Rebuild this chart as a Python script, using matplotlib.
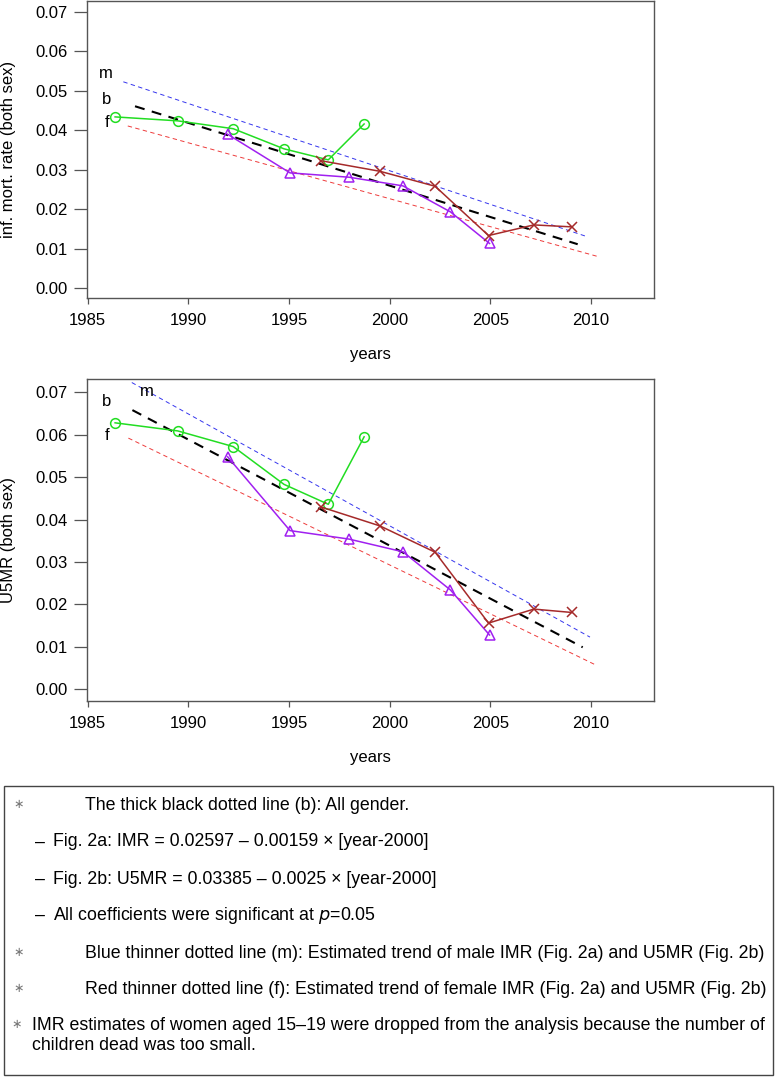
import numpy as np
import matplotlib.pyplot as plt
from matplotlib.patches import Rectangle

plt.rcParams['font.family'] = ['Liberation Sans', 'DejaVu Sans']
plt.rcParams['mathtext.fontset'] = 'custom'
plt.rcParams['mathtext.it'] = 'Liberation Sans Narrow:italic'
plt.rcParams['mathtext.rm'] = 'Liberation Sans Narrow'

# ---- dados ----
# painel a: IMR
anos_verde = [1986.36, 1989.47, 1992.23, 1994.75, 1996.95, 1998.73]
imr_verde = [0.0434, 0.0424, 0.0404, 0.0353, 0.0325, 0.0416]
anos_roxo = [1991.95, 1995.05, 1997.98, 2000.66, 2003.02, 2004.96]
imr_roxo = [0.0390, 0.0292, 0.0281, 0.0259, 0.0193, 0.0113]
anos_marrom = [1996.57, 1999.52, 2002.26, 2004.91, 2007.16, 2009.06]
imr_marrom = [0.0323, 0.0296, 0.0258, 0.0133, 0.0160, 0.0155]

# tendencias (pontos extremos)
imr_b_x, imr_b_y = [1987.35, 2009.34], [0.0461, 0.0111]
imr_m_x, imr_m_y = [1986.77, 2009.70], [0.0523, 0.0132]
imr_f_x, imr_f_y = [1986.99, 2010.40], [0.0411, 0.0079]

# painel b: U5MR
u5_verde = [0.0628, 0.0609, 0.0572, 0.0483, 0.0436, 0.0595]
u5_roxo = [0.0548, 0.0374, 0.0354, 0.0324, 0.0234, 0.0128]
u5_marrom = [0.0430, 0.0385, 0.0323, 0.0156, 0.0189, 0.0181]

u5_b_x, u5_b_y = [1987.22, 2009.59], [0.0658, 0.0099]
u5_m_x, u5_m_y = [1987.19, 2009.95], [0.0723, 0.0123]
u5_f_x, u5_f_y = [1987.02, 2010.25], [0.0592, 0.0057]

# posicoes dos rotulos m/b/f
rot_imr = {"m": (1985.90, 0.0543), "b": (1985.95, 0.0478), "f": (1985.97, 0.0419)}
rot_u5 = {"m": (1987.93, 0.0701), "b": (1985.94, 0.0678), "f": (1985.97, 0.0599)}

anos_ticks = [1985, 1990, 1995, 2000, 2005, 2010]
taxa_ticks = [0.00, 0.01, 0.02, 0.03, 0.04, 0.05, 0.06, 0.07]

VERDE = '#22dd22'
ROXO = '#a020f0'
MARROM = '#a52a2a'
CINZA = '#555555'

W, H = 776, 1077
fig = plt.figure(figsize=(W / 100, H / 100), dpi=100)

ax1 = fig.add_axes([86.7 / W, 1 - 298 / H, (654 - 86.7) / W, 297 / H])
ax2 = fig.add_axes([86.7 / W, 1 - 701 / H, (654 - 86.7) / W, (701 - 379.3) / H])


def painel(ax, verde, roxo, marrom, b, m, f, rotulos, ylabel, ylim):
    ax.plot(m[0], m[1], color='#3535ee', lw=0.7, dashes=(4.5, 3.5))
    ax.plot(f[0], f[1], color='#ee3b3b', lw=0.7, dashes=(4.5, 3.5))
    ax.plot(b[0], b[1], color='black', lw=1.5, dashes=(4.8, 3.6))
    ax.plot(anos_verde, verde, color=VERDE, lw=1.1, marker='o', ms=7,
            mfc='none', mec=VERDE, mew=1.1)
    ax.plot(anos_roxo, roxo, color=ROXO, lw=1.1, marker='^', ms=7,
            mfc='none', mec=ROXO, mew=1.1)
    ax.plot(anos_marrom, marrom, color=MARROM, lw=1.1, marker='x', ms=7,
            mec=MARROM, mew=1.1)
    for k, (x, y) in rotulos.items():
        ax.text(x, y, k, ha='center', va='center', fontsize=12)

    ax.set_xlim(1984.95, 2013.13)
    ax.set_ylim(*ylim)
    ax.set_xticks(anos_ticks)
    ax.set_yticks(taxa_ticks)
    ax.set_yticklabels(['%.2f' % t for t in taxa_ticks])
    for s in ax.spines.values():
        s.set_color(CINZA)
        s.set_linewidth(1.0)
    ax.tick_params(axis='x', length=4.5, width=0.9, color=CINZA, pad=6, labelsize=12)
    ax.tick_params(axis='y', length=9.5, width=0.9, color=CINZA, pad=4.5, labelsize=12)
    ax.set_xlabel('years', fontsize=12)
    ax.set_ylabel(ylabel, fontsize=12)


painel(ax1, imr_verde, imr_roxo, imr_marrom, (imr_b_x, imr_b_y), (imr_m_x, imr_m_y),
       (imr_f_x, imr_f_y), rot_imr, 'inf. mort. rate (both sex)', (-0.00254, 0.0728))
painel(ax2, u5_verde, u5_roxo, u5_marrom, (u5_b_x, u5_b_y), (u5_m_x, u5_m_y),
       (u5_f_x, u5_f_y), rot_u5, 'U5MR (both sex)', (-0.00276, 0.07306))

ax1.xaxis.set_label_coords(0.5, -(347 - 298) / 297)
ax2.xaxis.set_label_coords(0.5, -(750 - 701) / 321.7)
ax1.yaxis.set_label_coords((16 - 86.7) / 567.3, 0.5)
ax2.yaxis.set_label_coords((16 - 86.7) / 567.3, 0.5)

# caixa de notas
fig.patches.append(Rectangle((4 / W, 1 - 1075 / H), (773 - 4) / W, (1075 - 786) / H,
                             transform=fig.transFigure, fill=False,
                             edgecolor='#444444', lw=1.0))

nota_fs = 12.8
fam_nota = ['Liberation Sans Narrow', 'Liberation Sans', 'DejaVu Sans']


def nota(x, y, s):
    fig.text(x / W, 1 - y / H, s, ha='left', va='center', fontsize=nota_fs,
             family=fam_nota)


def asterisco(x, y):
    fig.text(x / W, 1 - y / H, '∗', ha='center', va='center', fontsize=9,
             color='#777777', family=['DejaVu Sans'])


def travessao(y):
    fig.text(40 / W, 1 - y / H, '–', ha='center', va='center', fontsize=nota_fs,
             family=['Liberation Sans'])


asterisco(19, 805)
nota(85, 805, 'The thick black dotted line (b): All gender.')
travessao(842)
nota(53, 842, 'Fig. 2a: IMR = 0.02597 – 0.00159 × [year-2000]')
travessao(879)
nota(53, 879, 'Fig. 2b: U5MR = 0.03385 – 0.0025 × [year-2000]')
travessao(915)
nota(53, 915, 'All coefficients were significant at $p$=0.05')
asterisco(19, 953)
nota(85, 953, 'Blue thinner dotted line (m): Estimated trend of male IMR (Fig. 2a) and U5MR (Fig. 2b)')
asterisco(19, 989)
nota(85, 989, 'Red thinner dotted line (f): Estimated trend of female IMR (Fig. 2a) and U5MR (Fig. 2b)')
asterisco(17, 1025)
nota(32, 1025, 'IMR estimates of women aged 15–19 were dropped from the analysis because the number of')
nota(32, 1046, 'children dead was too small.')

fig.savefig('out.png', dpi=100)
